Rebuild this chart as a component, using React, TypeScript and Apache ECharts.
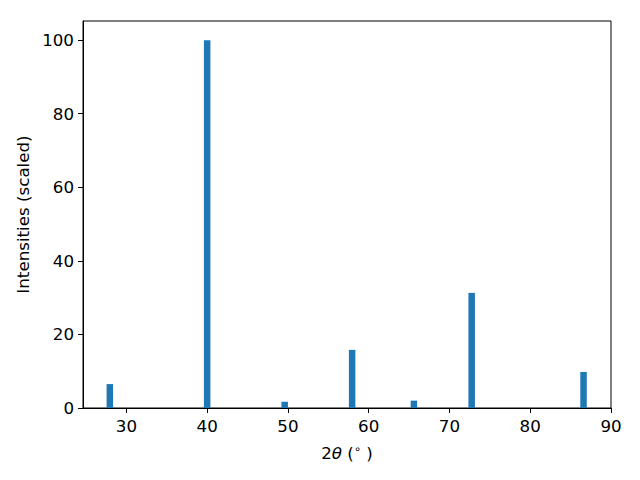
import React, { useEffect, useRef } from "react";
import * as echarts from "echarts";

const twoTheta = [27.95, 40.0, 49.6, 57.95, 65.6, 72.75, 86.6];
const intensities = [6.5, 100, 1.7, 15.8, 2.0, 31.3, 9.8];
const xTicks = [30, 40, 50, 60, 70, 80, 90];
const yTicks = [0, 20, 40, 60, 80, 100];

const FONT = "DejaVu Sans";
const FS = 16.7;

export default function App() {
  const ref = useRef<HTMLDivElement>(null);
  useEffect(() => {
    if (!ref.current) return;
    const chart = echarts.init(ref.current, undefined, { renderer: "svg" });
    chart.setOption({
      animation: false,
      backgroundColor: "#ffffff",
      grid: {
        left: 83,
        top: 21,
        width: 528,
        height: 387,
        show: true,
        borderColor: "#000",
        borderWidth: 1,
        backgroundColor: "transparent",
      },
      xAxis: {
        type: "value",
        min: 24.63,
        max: 90,
        splitLine: { show: false },
        axisLine: { show: true, onZero: false, lineStyle: { color: "#000", width: 1 } },
        axisTick: { show: true, inside: false, length: 5, lineStyle: { color: "#000" }, customValues: xTicks },
        axisLabel: { color: "#000", fontFamily: FONT, fontSize: FS, margin: 9, customValues: xTicks },
        name: "{n|2}{i|θ}{n| (}{s|∘}{n| )}",
        nameLocation: "middle",
        nameGap: 35,
        nameTextStyle: {
          color: "#000",
          fontFamily: FONT,
          fontSize: FS,
          rich: {
            n: { fontFamily: FONT, fontSize: FS, color: "#000" },
            i: { fontFamily: FONT, fontSize: FS, fontStyle: "italic", color: "#000" },
            s: { fontFamily: FONT, fontSize: 11.5, color: "#000", padding: [0, 0, 7, 0] },
          },
        },
      },
      yAxis: {
        type: "value",
        min: 0,
        max: 105.2,
        splitLine: { show: false },
        axisLine: { show: true, lineStyle: { color: "#000", width: 1 } },
        axisTick: { show: true, inside: false, length: 5, lineStyle: { color: "#000" }, customValues: yTicks },
        axisLabel: { color: "#000", fontFamily: FONT, fontSize: FS, margin: 9, customValues: yTicks },
        name: "Intensities (scaled)",
        nameLocation: "middle",
        nameGap: 46,
        nameTextStyle: { color: "#000", fontFamily: FONT, fontSize: FS },
      },
      series: [
        {
          type: "bar",
          data: twoTheta.map((x, i) => [x, intensities[i]]),
          barWidth: 6.5,
          itemStyle: { color: "#1f77b4" },
        },
      ],
    });
    return () => chart.dispose();
  }, []);
  return (
    <div
      ref={ref}
      style={{ position: "fixed", left: 0, top: 0, width: 640, height: 480, background: "#fff" }}
    />
  );
}
